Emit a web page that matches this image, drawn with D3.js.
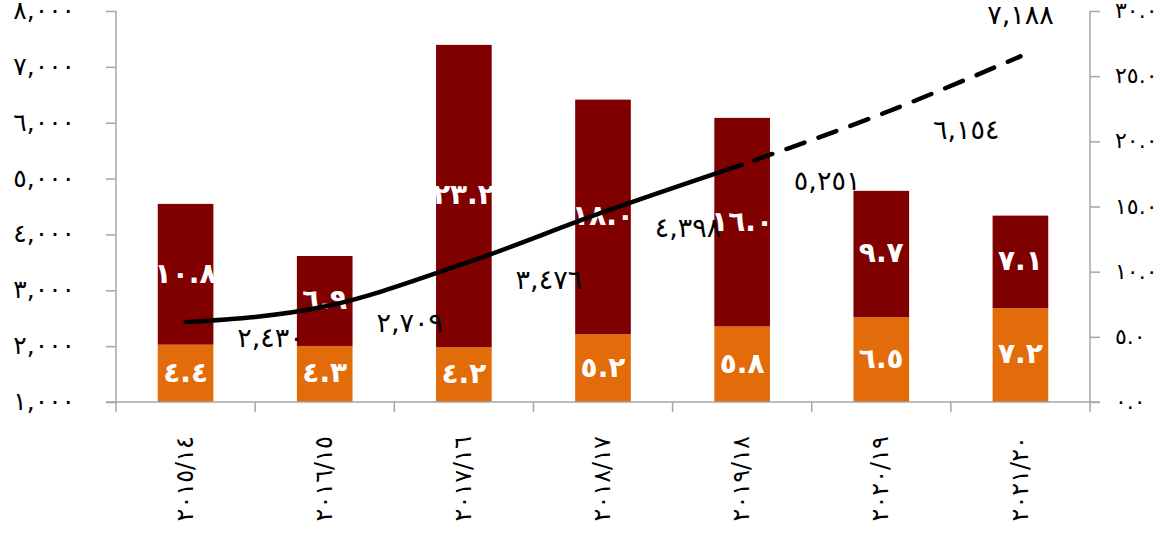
<!DOCTYPE html>
<html>
<head>
<meta charset="utf-8">
<script src="https://cdn.jsdelivr.net/npm/d3@7/dist/d3.min.js"></script>
<style>
  html, body { margin: 0; padding: 0; background: #ffffff; }
  svg { display: block; }
  text { font-family: "DejaVu Sans", sans-serif; }
</style>
</head>
<body>
<svg id="chart" width="1167" height="542"></svg>
<script>
// Fiscal years (shown as rotated category labels)
const years = ["٢٠١٥/١٤", "٢٠١٦/١٥", "٢٠١٧/١٦", "٢٠١٨/١٧", "٢٠١٩/١٨", "٢٠٢٠/١٩", "٢٠٢١/٢٠"];
// Stacked bar series (right axis)
const lowerValues = [4.4, 4.3, 4.2, 5.2, 5.8, 6.5, 7.2];
const upperValues = [10.8, 6.9, 23.2, 18.0, 16.0, 9.7, 7.1];
// Line series (left axis); the last two points are projections
const lineValues = [2430, 2709, 3476, 4398, 5251, 6154, 7188];
const actualCount = 5;
// Axis ticks
const leftTicks = [1000, 2000, 3000, 4000, 5000, 6000, 7000, 8000];
const rightTicks = [0, 5, 10, 15, 20, 25, 30];

const toArabicDigits = s => String(s).replace(/[0-9]/g, d => "٠١٢٣٤٥٦٧٨٩"[+d]);
const fmtThousands = v => toArabicDigits(d3.format(",")(v));
const fmtOne = v => toArabicDigits(d3.format(".1f")(v));

const svg = d3.select("#chart");
const m = { left: 116, right: 1090, top: 11, bottom: 402 };

const x = d3.scaleBand().domain(years).range([m.left, m.right])
  .paddingInner(0.6).paddingOuter(0.3);
const yL = d3.scaleLinear().domain([1000, 8000]).range([m.bottom, m.top]);
const yR = d3.scaleLinear().domain([0, 30]).range([m.bottom, m.top]);

const axisColor = "#a6a6a6";

// Stacked bars
const stackRows = years.map((y, i) => ({ year: y, lower: lowerValues[i], upper: upperValues[i] }));
const stacked = d3.stack().keys(["lower", "upper"])(stackRows);
const colors = { lower: "#e36c0a", upper: "#800000" };

const layers = svg.append("g").selectAll("g").data(stacked).join("g")
  .attr("fill", d => colors[d.key]);
layers.selectAll("rect").data(d => d).join("rect")
  .attr("x", d => x(d.data.year))
  .attr("width", x.bandwidth())
  .attr("y", d => yR(d[1]))
  .attr("height", d => yR(d[0]) - yR(d[1]));

// Segment value labels
layers.selectAll("text").data(d => d.map(s => ({ s, key: d.key }))).join("text")
  .attr("x", d => x(d.s.data.year) + x.bandwidth() / 2)
  .attr("y", d => (yR(d.s[0]) + yR(d.s[1])) / 2)
  .attr("dy", "0.3em")
  .attr("text-anchor", "middle")
  .attr("fill", "#ffffff")
  .attr("font-size", 28)
  .attr("font-weight", "bold")
  .text(d => fmtOne(d.s.data[d.key]));

// Axes
const gL = svg.append("g").attr("transform", `translate(${m.left},0)`)
  .call(d3.axisLeft(yL).tickValues(leftTicks).tickFormat(fmtThousands).tickSize(10).tickPadding(31));
const gR = svg.append("g").attr("transform", `translate(${m.right},0)`)
  .call(d3.axisRight(yR).tickValues(rightTicks).tickFormat(fmtOne).tickSize(10).tickPadding(15));
const gB = svg.append("g").attr("transform", `translate(0,${m.bottom})`)
  .call(d3.axisBottom(x).tickSize(0).tickFormat(""));

[gL, gR, gB].forEach(g => {
  g.selectAll("path.domain").attr("stroke", axisColor).attr("stroke-width", 1.5);
  g.selectAll(".tick line").attr("stroke", axisColor).attr("stroke-width", 1.5);
  g.selectAll(".tick text").attr("fill", "#000")
    .attr("dy", "0.3em")
    .style("font-family", "'DejaVu Sans', sans-serif");
});
gL.selectAll(".tick text").attr("font-size", 25);
gR.selectAll(".tick text").attr("font-size", 22);
gL.select("path.domain").attr("d", `M0,${m.top}V${m.bottom + 10}`);
gR.select("path.domain").attr("d", `M0,${m.top}V${m.bottom}`);
gB.select("path.domain").attr("d", `M${m.left - 10},0H${m.right + 10}`);

// Category boundary ticks on the bottom axis
const step = x.step();
const bounds = d3.range(1, years.length).map(i => x(years[i]) - step * x.paddingInner() / 2);
gB.selectAll("line.bound").data(bounds.concat([m.right])).join("line")
  .attr("class", "bound")
  .attr("x1", d => d).attr("x2", d => d)
  .attr("y1", 0).attr("y2", 10)
  .attr("stroke", axisColor).attr("stroke-width", 1.5);

// Rotated year labels
gB.selectAll("text.year").data(years).join("text")
  .attr("class", "year")
  .attr("transform", d => `translate(${x(d) + x.bandwidth() / 2},34) rotate(-90)`)
  .attr("text-anchor", "end")
  .attr("dy", "0.3em")
  .attr("font-size", 24)
  .attr("fill", "#000")
  .text(d => d);

// Line series: solid for actuals, dashed for projections
const pts = lineValues.map((v, i) => ({ x: x(years[i]) + x.bandwidth() / 2, y: yL(v), v, i }));
const line = d3.line().x(d => d.x).y(d => d.y).curve(d3.curveMonotoneX);

svg.append("path")
  .attr("d", line(pts.slice(0, actualCount)))
  .attr("fill", "none").attr("stroke", "#000").attr("stroke-width", 4.5)
  .attr("stroke-linecap", "round");
svg.append("path")
  .attr("d", line(pts.slice(actualCount - 1)))
  .attr("fill", "none").attr("stroke", "#000").attr("stroke-width", 4.5)
  .attr("stroke-dasharray", "19,15").attr("stroke-dashoffset", 21)
  .attr("stroke-linecap", "round");

// Line value labels: below-right of each point, the final one above
svg.append("g").selectAll("text").data(pts).join("text")
  .attr("x", d => d.i === pts.length - 1 ? d.x : d.x + 85)
  .attr("y", d => d.i === pts.length - 1 ? d.y - 40 : d.y + 17)
  .attr("dy", "0.3em")
  .attr("text-anchor", "middle")
  .attr("font-size", 27)
  .attr("fill", "#000")
  .text(d => fmtThousands(d.v));
</script>
</body>
</html>
